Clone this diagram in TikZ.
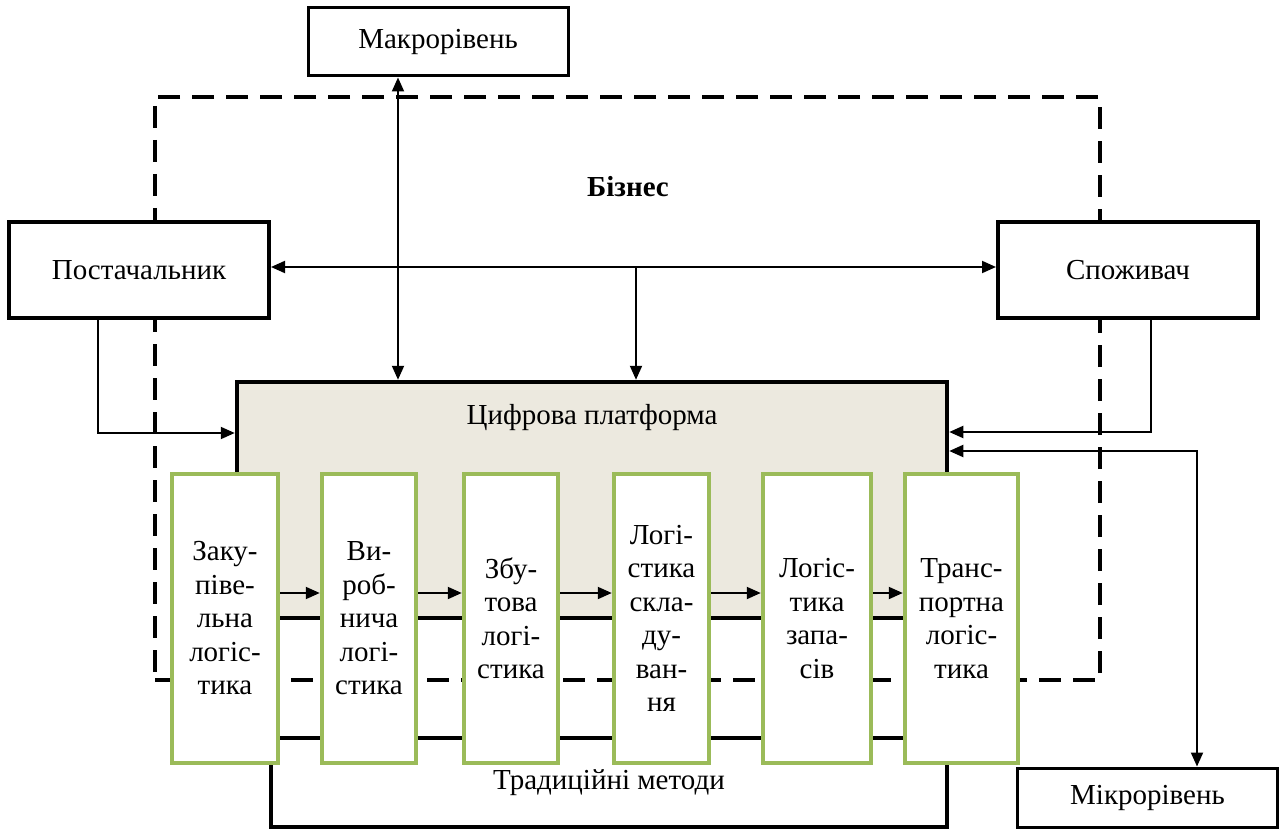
\documentclass[tikz,border=0pt]{standalone}
\usepackage{fontspec}
\setmainfont{Liberation Serif}
\usetikzlibrary{arrows.meta}
\definecolor{beige}{RGB}{236,233,223}
\definecolor{lgreen}{RGB}{155,187,89}
\tikzset{
  txt/.style={font=\fontsize{29}{33.5}\selectfont},
  plainbox/.style={draw, line width=3pt, fill=white, inner sep=0pt, txt},
  heavybox/.style={draw, line width=4.5pt, inner sep=0pt, txt},
  greenbox/.style={draw=lgreen, line width=4.5pt, fill=white, inner sep=0pt, align=center, txt, minimum height=289pt},
  conn/.style={line width=2pt, -{Triangle[length=14pt,width=12pt]}},
  biconn/.style={line width=2pt, {Triangle[length=14pt,width=12pt]}-{Triangle[length=14pt,width=12pt]}},
}
\begin{document}
\begin{tikzpicture}[x=1pt,y=-1pt]
\useasboundingbox (0,0) rectangle (1279,829);
% dashed business frame
\node[draw, line width=3.5pt, dash pattern=on 22pt off 12pt, minimum width=945pt, minimum height=583pt, inner sep=0pt] (biz) at (627.5,388.5) {};
\node[font=\fontsize{29}{33.5}\selectfont\bfseries] (bizlabel) at (628,187) {Бізнес};
% platform and traditional methods
\node[heavybox, fill=beige, minimum width=710pt, minimum height=236pt] (plat) at (592,500) {};
\node[txt] (platlabel) at (592,418) {Цифрова платформа};
\node[heavybox, fill=white, minimum width=676pt, minimum height=89pt] (trad) at (609,782.5) {Традиційні методи};
% outer boxes
\node[plainbox, minimum width=260pt, minimum height=68pt] (macro) at (438,42) {Макрорівень};
\node[plainbox, line width=4pt, minimum width=260pt, minimum height=96pt] (sup) at (139,270) {Постачальник};
\node[plainbox, line width=4pt, minimum width=260pt, minimum height=96pt] (cons) at (1128,270) {Споживач};
\node[plainbox, minimum width=260pt, minimum height=59pt] (micro) at (1147.5,797.5) {Мікрорівень};
% connectors
\coordinate (mx) at (398,0);
\draw[biconn] (mx |- macro.south) -- (mx |- plat.north);
\coordinate (hy) at (0,267);
\draw[biconn] (sup.east |- hy) -- (cons.west |- hy);
\coordinate (jn) at (636,267);
\draw[conn] (jn) -- (jn |- plat.north);
\coordinate (sx) at (98,433);
\draw[conn] (sx |- sup.south) -- (sx) -- (sx -| plat.west);
\coordinate (cx) at (1151,432);
\draw[conn] (cx |- cons.south) -- (cx) -- (cx -| plat.east);
\coordinate (mix) at (1197,451);
\draw[biconn] (mix |- micro.north) -- (mix) -- (mix -| plat.east);
% green process boxes
\node[greenbox, minimum width=106pt] (g1) at (225,618.5) {Заку-\\піве-\\льна\\логіс-\\тика};
\node[greenbox, minimum width=94pt] (g2) at (369,618.5) {Ви-\\роб-\\нича\\логі-\\стика};
\node[greenbox, minimum width=94pt] (g3) at (511,618.5) {Збу-\\това\\логі-\\стика};
\node[greenbox, minimum width=95pt] (g4) at (661.5,618.5) {Логі-\\стика\\скла-\\ду-\\ван-\\ня};
\node[greenbox, minimum width=108pt] (g5) at (817,618.5) {Логіс-\\тика\\запа-\\сів};
\node[greenbox, minimum width=113pt] (g6) at (961.5,618.5) {Транс-\\портна\\логіс-\\тика};
\coordinate (ay) at (0,593);
\foreach \a/\b in {g1/g2,g2/g3,g3/g4,g4/g5,g5/g6}{
  \draw[conn] (\a.east |- ay) -- (\b.west |- ay);
}
\end{tikzpicture}
\end{document}
